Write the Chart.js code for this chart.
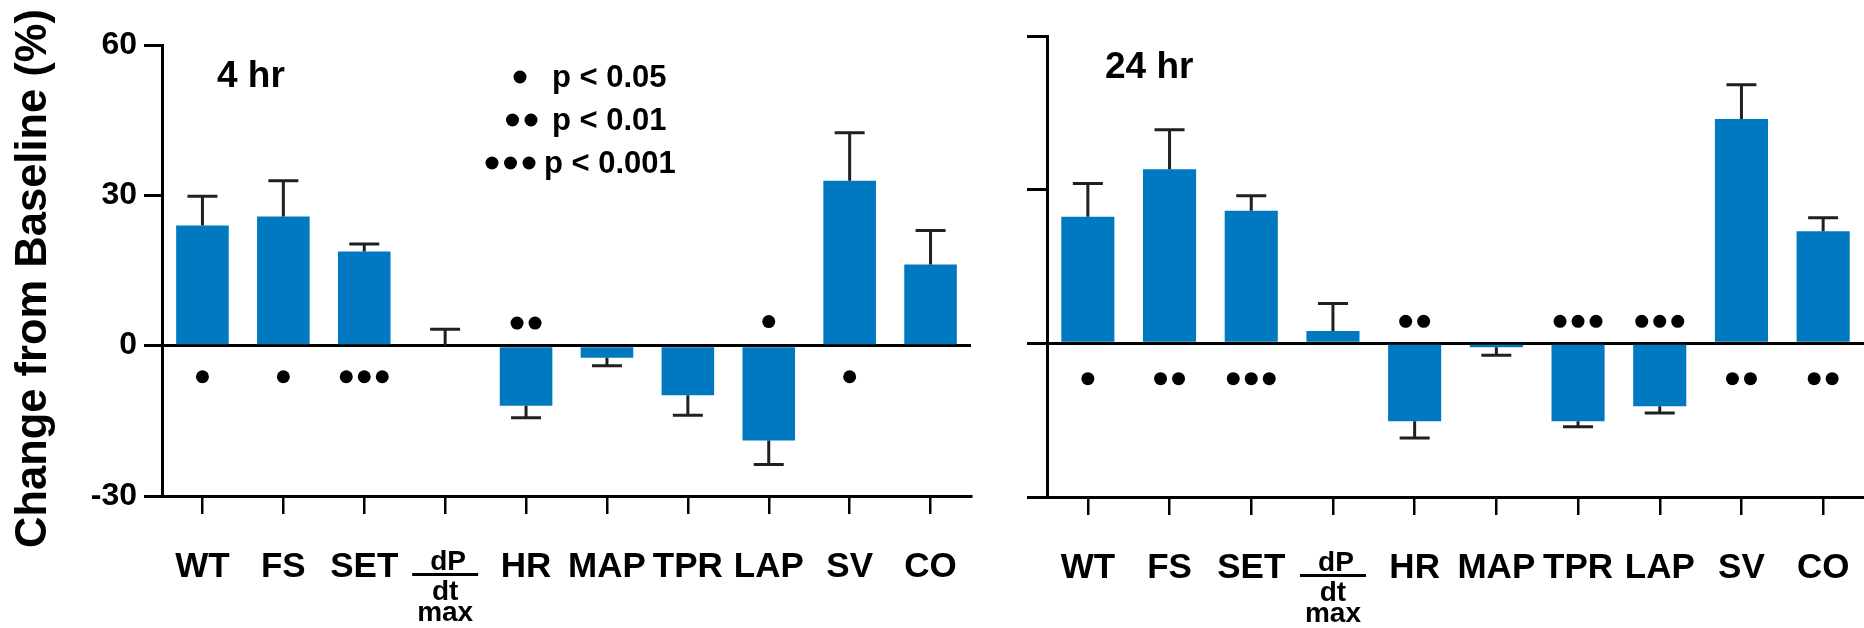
<!DOCTYPE html>
<html>
<head>
<meta charset="utf-8">
<script src="https://cdn.jsdelivr.net/npm/chart.js@4.4.1/dist/chart.umd.min.js"></script>
<style>
  body { margin: 0; background: #fff; }
  #wrap { display: flex; width: 1864px; height: 628px; }
</style>
</head>
<body>
<div id="wrap">
  <canvas id="chart4" width="990" height="628"></canvas>
  <canvas id="chart24" width="874" height="628"></canvas>
</div>
<script>
const categorias = ['WT', 'FS', 'SET', ['dP', 'dt', 'max'], 'HR', 'MAP', 'TPR', 'LAP', 'SV', 'CO'];
const yTicks = [60, 30, 0, -30];
const tituloY = 'Change from Baseline (%)';

// 4 hr
const media4 = [24.0, 25.8, 18.8, 0, -12.0, -2.4, -9.9, -18.9, 32.9, 16.2];
const error4 = [5.8, 7.1, 1.5, 3.3, 2.4, 1.6, 4.0, 4.8, 9.6, 6.8];
const puntos4 = [1, 1, 3, 0, 2, 0, 0, 1, 1, 0];
const puntosY4 = [-6.2, -6.2, -6.2, null, 4.5, null, null, 4.8, -6.2, null];

// 24 hr
const media24 = [24.7, 34.0, 25.9, 2.4, -15.2, -0.75, -15.2, -12.3, 43.8, 21.9];
const error24 = [6.5, 7.7, 2.9, 5.4, 3.3, 1.6, 1.1, 1.3, 6.7, 2.6];
const puntos24 = [1, 2, 3, 0, 2, 0, 3, 3, 2, 2];
const puntosY24 = [-6.9, -6.9, -6.9, null, 4.3, null, 4.3, 4.3, -6.9, -6.9];

const leyenda = [
    { puntos: 1, texto: 'p < 0.05' },
    { puntos: 2, texto: 'p < 0.01' },
    { puntos: 3, texto: 'p < 0.001' },
];

const AZUL = '#0079c1';
const OSCURO = '#231f20';
const FUENTE = '"Liberation Sans", Arial, sans-serif';

Chart.defaults.font.family = FUENTE;
Chart.defaults.font.weight = 'bold';
Chart.defaults.color = '#000';

// barras de error (solo hacia afuera)
const barrasError = {
    id: 'barrasError',
    afterDatasetsDraw(chart, args, opts) {
        const { ctx } = chart;
        const y = chart.scales.y;
        const meta = chart.getDatasetMeta(0);
        ctx.save();
        ctx.strokeStyle = OSCURO;
        ctx.lineWidth = 3;
        meta.data.forEach((bar, i) => {
            const v = opts.media[i];
            const dir = v >= 0 ? 1 : -1;
            const y0 = y.getPixelForValue(v);
            const y1 = y.getPixelForValue(v + dir * opts.error[i]);
            ctx.beginPath();
            ctx.moveTo(bar.x, y0);
            ctx.lineTo(bar.x, y1);
            ctx.moveTo(bar.x - 15, y1);
            ctx.lineTo(bar.x + 15, y1);
            ctx.stroke();
        });
        ctx.restore();
    },
};

// puntos de significancia
const puntosSig = {
    id: 'puntosSig',
    afterDatasetsDraw(chart, args, opts) {
        const { ctx } = chart;
        const { x, y } = chart.scales;
        ctx.save();
        ctx.fillStyle = '#000';
        opts.cuantos.forEach((n, i) => {
            if (!n) return;
            const cx = x.getPixelForTick(i);
            const cy = y.getPixelForValue(opts.valores[i]);
            for (let k = 0; k < n; k++) {
                ctx.beginPath();
                ctx.arc(cx + (k - (n - 1) / 2) * 18, cy, 6.5, 0, Math.PI * 2);
                ctx.fill();
            }
        });
        ctx.restore();
    },
};

// etiquetas del eje x (dP/dt max como fraccion)
const etiquetasX = {
    id: 'etiquetasX',
    afterDraw(chart) {
        const { ctx, chartArea } = chart;
        const x = chart.scales.x;
        const b = chartArea.bottom;
        ctx.save();
        ctx.fillStyle = '#000';
        ctx.textAlign = 'center';
        ctx.textBaseline = 'alphabetic';
        categorias.forEach((cat, i) => {
            const px = x.getPixelForTick(i);
            if (Array.isArray(cat)) {
                ctx.font = 'bold 28px ' + FUENTE;
                ctx.fillText(cat[0], px + 3, b + 74);
                ctx.fillRect(px - 33, b + 77, 66, 3);
                ctx.fillText(cat[1], px, b + 104);
                ctx.fillText(cat[2], px, b + 125);
            } else {
                ctx.font = 'bold 35px ' + FUENTE;
                ctx.fillText(cat, px, b + 81);
            }
        });
        ctx.restore();
    },
};

// titulo de panel, titulo del eje y y leyenda
const textosPanel = {
    id: 'textosPanel',
    afterDraw(chart, args, opts) {
        const { ctx, chartArea } = chart;
        ctx.save();
        ctx.fillStyle = '#000';
        ctx.textBaseline = 'alphabetic';
        ctx.textAlign = 'left';
        ctx.font = 'bold 37px ' + FUENTE;
        ctx.fillText(opts.titulo, chartArea.left + opts.tituloX, chartArea.top + 42);
        if (opts.ejeY) {
            ctx.save();
            ctx.translate(46, (chartArea.top + chartArea.bottom) / 2 + 8);
            ctx.rotate(-Math.PI / 2);
            ctx.textAlign = 'center';
            ctx.font = 'bold 43.5px ' + FUENTE;
            ctx.fillText(opts.ejeY, 0, 0);
            ctx.restore();
        }
        if (opts.leyenda) {
            ctx.font = 'bold 31px ' + FUENTE;
            const textoX = [390, 390, 382];
            const finPuntos = [358, 369, 367];
            opts.leyenda.forEach((l, j) => {
                const base = 87 + j * 43;
                ctx.fillText(l.texto, chartArea.left + textoX[j], base);
                for (let k = 0; k < l.puntos; k++) {
                    ctx.beginPath();
                    ctx.arc(chartArea.left + finPuntos[j] - k * 18.5, base - 10, 6.5, 0, Math.PI * 2);
                    ctx.fill();
                }
            });
        }
        ctx.restore();
    },
};

function crearPanel(canvas, media, error, cuantos, valores, cfg) {
    return new Chart(canvas, {
        type: 'bar',
        data: {
            labels: categorias,
            datasets: [{
                data: media,
                backgroundColor: AZUL,
                borderWidth: 0,
                barPercentage: 0.65,
                categoryPercentage: 1,
            }],
        },
        options: {
            responsive: false,
            animation: false,
            layout: { padding: { top: cfg.top, right: cfg.right, left: 0, bottom: 0 } },
            plugins: {
                legend: { display: false },
                tooltip: { enabled: false },
                barrasError: { media: media, error: error },
                puntosSig: { cuantos: cuantos, valores: valores },
                textosPanel: {
                    titulo: cfg.titulo,
                    tituloX: cfg.tituloX,
                    leyenda: cfg.leyenda,
                    ejeY: cfg.etiquetasY ? tituloY : null,
                },
            },
            scales: {
                x: {
                    grid: {
                        offset: false,
                        drawOnChartArea: false,
                        drawTicks: true,
                        tickLength: 18,
                        color: '#000',
                        lineWidth: 2.5,
                    },
                    border: { color: '#000', width: 3 },
                    ticks: { display: false },
                    afterFit: (s) => { s.height = cfg.alturaX; },
                },
                y: {
                    min: -30,
                    max: 60,
                    afterBuildTicks: (s) => { s.ticks = yTicks.map((v) => ({ value: v })); },
                    grid: {
                        color: (c) => (c.tick && c.tick.value === 0 ? '#000' : 'rgba(0,0,0,0)'),
                        tickColor: '#000',
                        lineWidth: 3,
                        tickWidth: 3,
                        tickLength: cfg.tickY,
                    },
                    border: { color: '#000', width: 3 },
                    ticks: {
                        display: cfg.etiquetasY,
                        padding: 7,
                        font: { size: 32, weight: 'bold' },
                    },
                    afterFit: (s) => { s.width = cfg.anchoY; },
                },
            },
        },
        plugins: [barrasError, puntosSig, etiquetasX, textosPanel],
    });
}

crearPanel(document.getElementById('chart4'), media4, error4, puntos4, puntosY4, {
    top: 45, right: 19, alturaX: 132, anchoY: 162, tickY: 18,
    etiquetasY: true, titulo: '4 hr', tituloX: 55, leyenda: leyenda,
});

crearPanel(document.getElementById('chart24'), media24, error24, puntos24, puntosY24, {
    top: 36, right: 0, alturaX: 131, anchoY: 57, tickY: 20,
    etiquetasY: false, titulo: '24 hr', tituloX: 58, leyenda: null,
});
</script>
</body>
</html>
